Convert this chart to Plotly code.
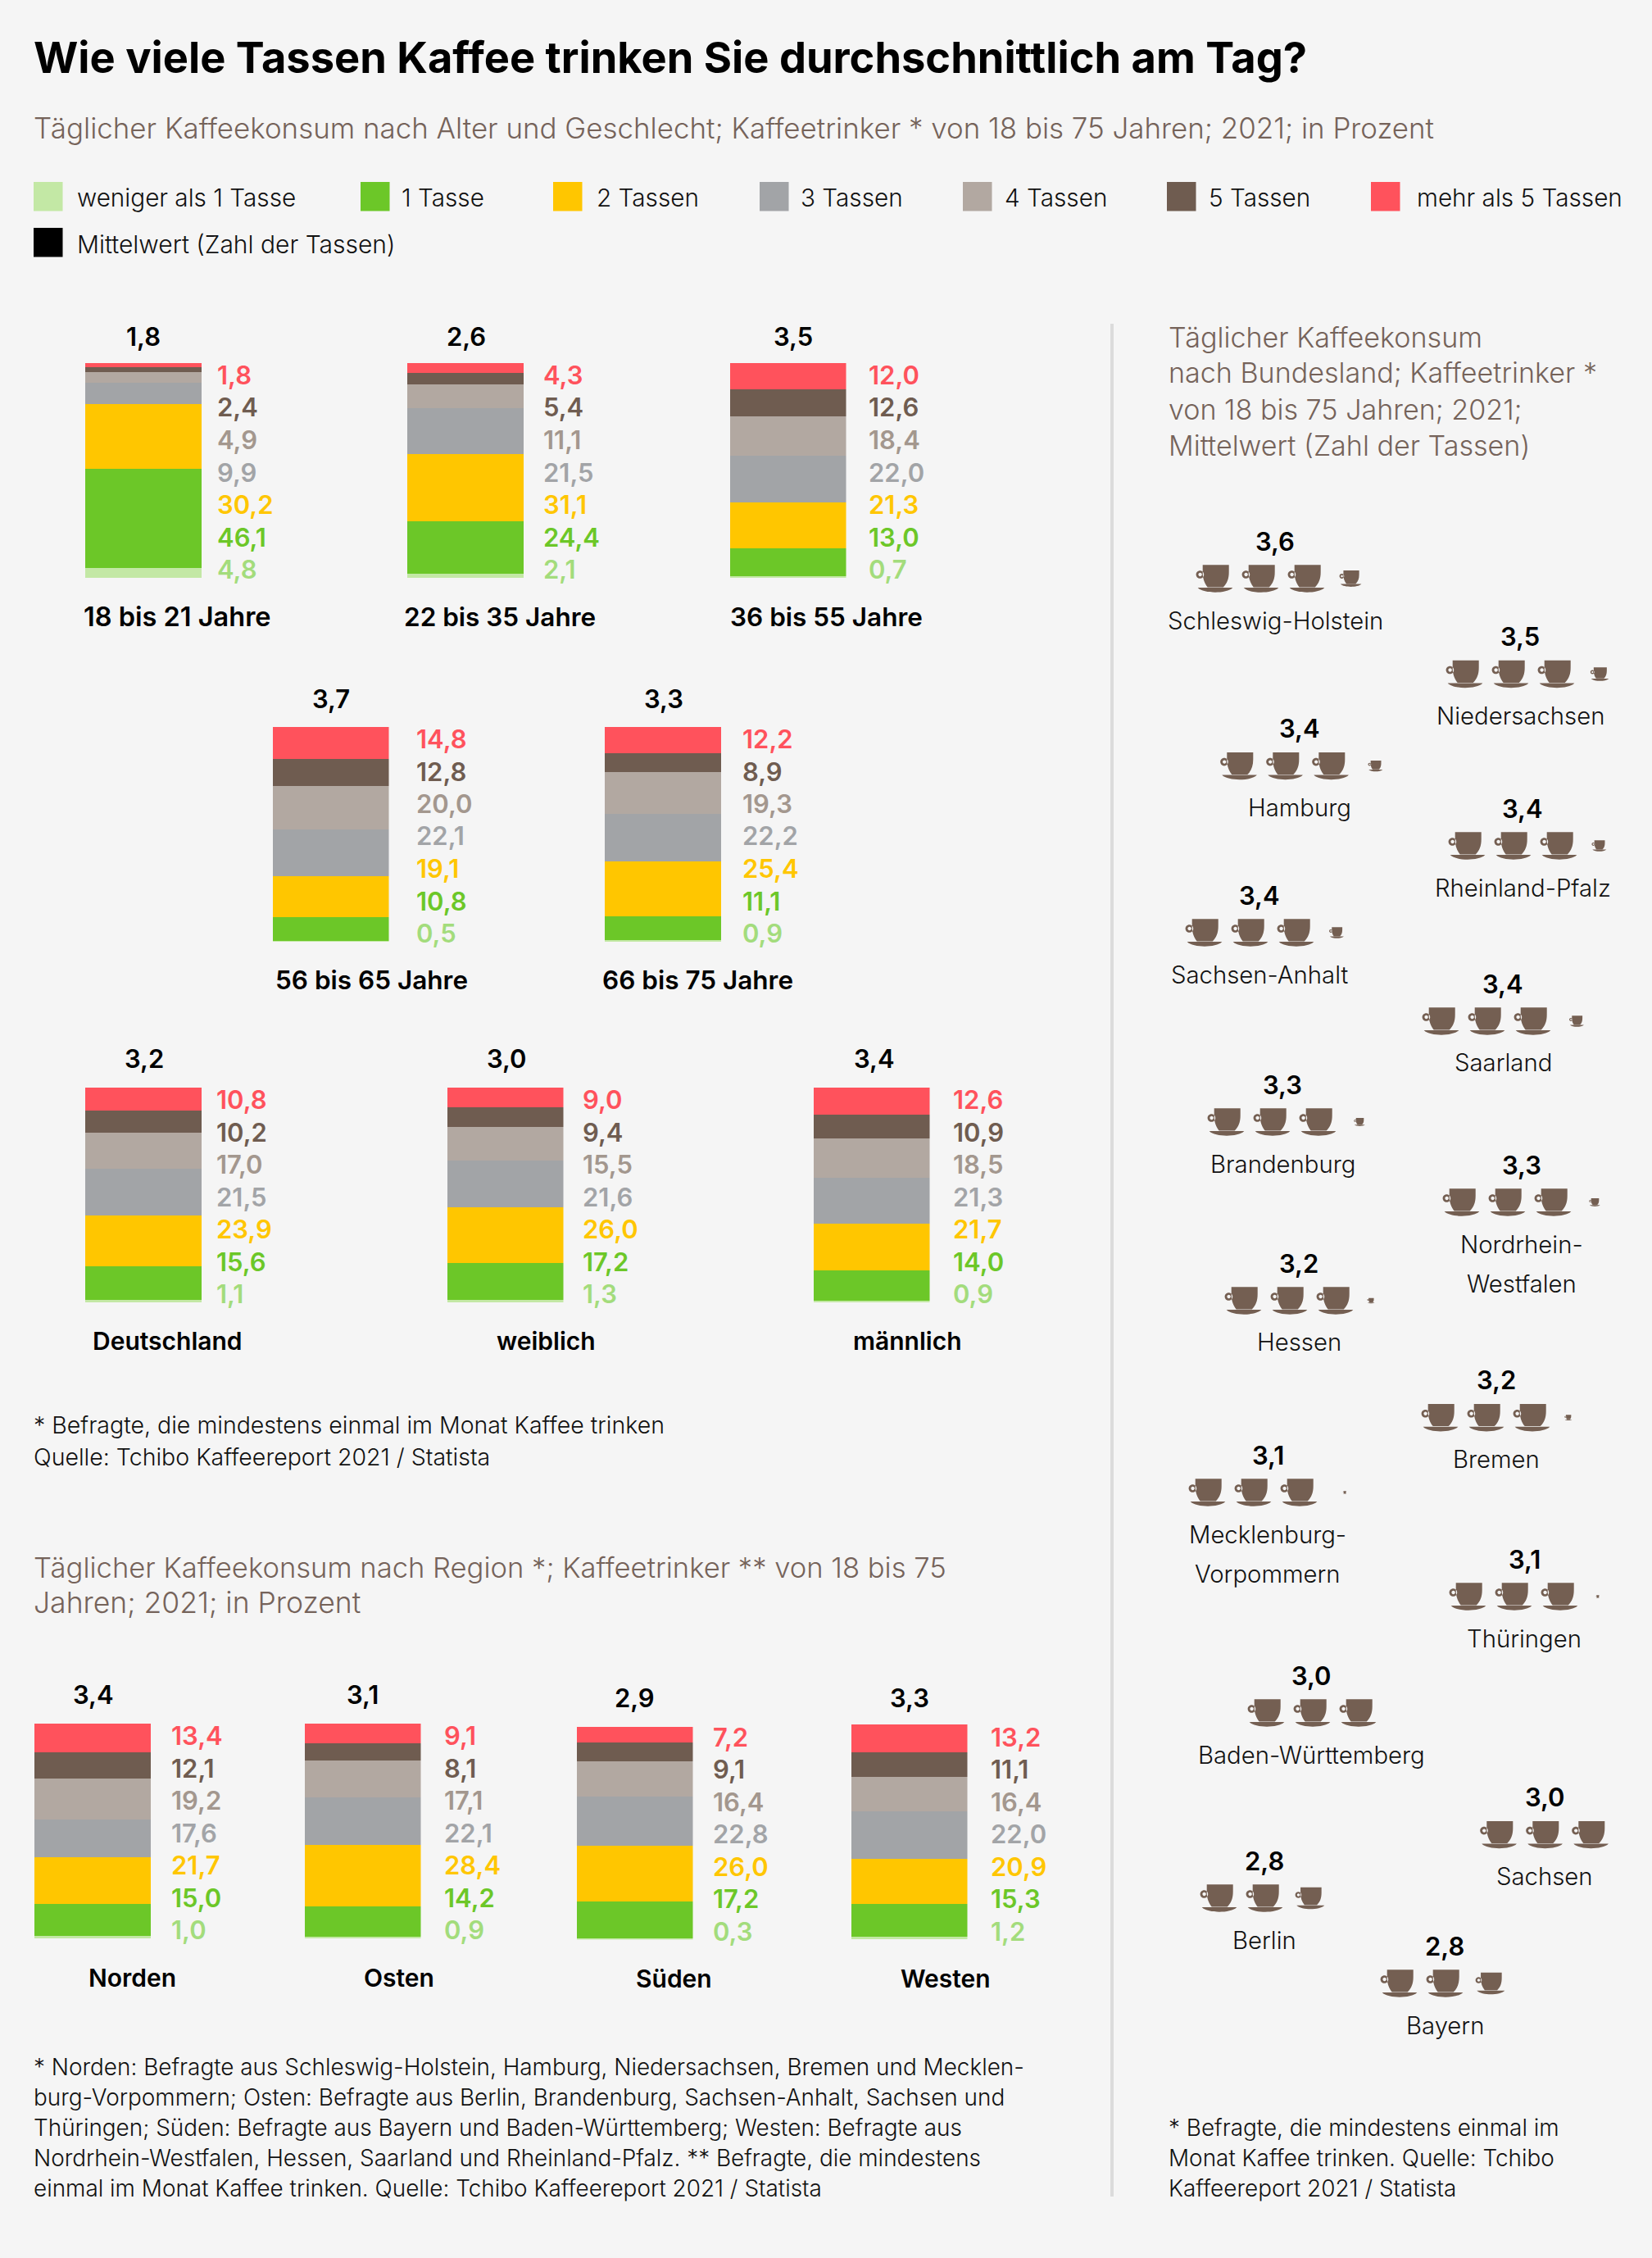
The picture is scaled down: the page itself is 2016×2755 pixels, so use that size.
import plotly.graph_objects as go

# ---------- data ----------
groups = ["18 bis 21 Jahre", "22 bis 35 Jahre", "36 bis 55 Jahre", "56 bis 65 Jahre", "66 bis 75 Jahre",
          "Deutschland", "weiblich", "männlich", "Norden", "Osten", "Süden", "Westen"]
series_names = ["weniger als 1 Tasse", "1 Tasse", "2 Tassen", "3 Tassen", "4 Tassen", "5 Tassen", "mehr als 5 Tassen"]
less_one = [4.8, 2.1, 0.7, 0.5, 0.9, 1.1, 1.3, 0.9, 1.0, 0.9, 0.3, 1.2]
one_cup = [46.1, 24.4, 13.0, 10.8, 11.1, 15.6, 17.2, 14.0, 15.0, 14.2, 17.2, 15.3]
two_cups = [30.2, 31.1, 21.3, 19.1, 25.4, 23.9, 26.0, 21.7, 21.7, 28.4, 26.0, 20.9]
three_cups = [9.9, 21.5, 22.0, 22.1, 22.2, 21.5, 21.6, 21.3, 17.6, 22.1, 22.8, 22.0]
four_cups = [4.9, 11.1, 18.4, 20.0, 19.3, 17.0, 15.5, 18.5, 19.2, 17.1, 16.4, 16.4]
five_cups = [2.4, 5.4, 12.6, 12.8, 8.9, 10.2, 9.4, 10.9, 12.1, 8.1, 9.1, 11.1]
more_cups = [1.8, 4.3, 12.0, 14.8, 12.2, 10.8, 9.0, 12.6, 13.4, 9.1, 7.2, 13.2]
group_means = [1.8, 2.6, 3.5, 3.7, 3.3, 3.2, 3.0, 3.4, 3.4, 3.1, 2.9, 3.3]

states = ["Schleswig-Holstein", "Niedersachsen", "Hamburg", "Rheinland-Pfalz", "Sachsen-Anhalt", "Saarland",
          "Brandenburg", "Nordrhein-|Westfalen", "Hessen", "Bremen", "Mecklenburg-|Vorpommern", "Thüringen",
          "Baden-Württemberg", "Sachsen", "Berlin", "Bayern"]
state_means = [3.6, 3.5, 3.4, 3.4, 3.4, 3.4, 3.3, 3.3, 3.2, 3.2, 3.1, 3.1, 3.0, 3.0, 2.8, 2.8]

# ---------- layout constants ----------
W, H = 2016, 2755
BG = "#f5f5f5"
FONT = "Inter"
colors = ["#c3e8a5", "#6cc728", "#ffc600", "#a2a4a7", "#b2a8a1", "#6f5c50", "#ff525c"]
label_colors = ["#a3dc7c", "#6cc728", "#ffc600", "#a2a4a7", "#a3978e", "#6f5c50", "#ff525c"]
CUP = "#745f52"
SUB = "#75635a"

bar_left = [104, 497, 890.5, 332.5, 738, 104, 545.5, 992.5, 42, 371.5, 703.5, 1038.5]
bar_w = 142
bar_bottom = [705, 705, 705, 1149, 1149, 1589, 1589, 1589, 2365, 2365, 2366.5, 2366.5]
px_per_pct = 2.62
value_x = [265, 663, 1060, 508, 906, 264, 711, 1163, 209, 542, 870, 1209]
mean_x = [175, 569, 968, 404, 810, 176, 618, 1067, 113.6, 442, 774, 1109.5]
mean_y = [410, 410, 410, 852, 852, 1291, 1291, 1291, 2067, 2067, 2071, 2071]
name_x = [216, 610, 1008, 453, 851, 204, 666, 1107, 161, 487, 822, 1153.5]
name_y = [752, 752, 752, 1196, 1196, 1636, 1636, 1636, 2413, 2413, 2414, 2414]
name_size = [32.5, 31.5, 31.5, 31.5, 31.5, 30, 30, 30, 30, 30, 30, 30]

cup_x = [1482, 1787, 1511.6, 1790, 1469, 1758, 1496, 1783, 1517, 1757, 1473, 1791, 1545, 1828.6, 1487, 1707]
cup_y = [706, 822.5, 934.6, 1032, 1138, 1246, 1369, 1467, 1587, 1729.7, 1821, 1948, 2090, 2238.6, 2316, 2420]
state_x = [1556, 1855, 1586, 1858, 1537, 1834, 1565, 1857, 1585, 1826, 1547, 1860, 1600, 1885, 1543, 1763]
CUP_STEP = 56
small_cup_gap = [54, 53, 54.8, 49.4, 50, 54, 51, 51, 44, 44.8, 56, 46.7, 0, 0, 55.5, 55.5]

legend_box_x = [41, 440, 675, 927, 1175, 1424, 1673]
legend_text_x = [94, 490, 728, 977, 1226, 1475, 1729]


def px(x):
    return x / W


def py(y):
    return 1 - y / H


annotations = []
shapes = []


def text(x, y, s, size, color="#000000", weight=400, anchor="left"):
    annotations.append(dict(x=px(x), y=py(y), xref="paper", yref="paper", text=s, showarrow=False,
                            xanchor=anchor, yanchor="middle", borderpad=0, borderwidth=0, align=anchor,
                            font=dict(family=FONT, size=size, color=color, weight=weight)))


def rect(x0, y0, x1, y1, color):
    shapes.append(dict(type="rect", xref="paper", yref="paper", x0=px(x0), x1=px(x1), y0=py(y0), y1=py(y1),
                       fillcolor=color, line=dict(width=0), layer="above"))


def cup_path(cx, cy, s):
    def p(x, y):
        return f"{px(cx + x * s):.6f},{py(cy + y * s):.6f}"

    def circle(x, y, r, rev=False):
        k = 0.5523 * r
        if not rev:
            return (f"M{p(x + r, y)}C{p(x + r, y + k)} {p(x + k, y + r)} {p(x, y + r)}"
                    f"C{p(x - k, y + r)} {p(x - r, y + k)} {p(x - r, y)}"
                    f"C{p(x - r, y - k)} {p(x - k, y - r)} {p(x, y - r)}"
                    f"C{p(x + k, y - r)} {p(x + r, y - k)} {p(x + r, y)}Z")
        return (f"M{p(x + r, y)}C{p(x + r, y - k)} {p(x + k, y - r)} {p(x, y - r)}"
                f"C{p(x - k, y - r)} {p(x - r, y - k)} {p(x - r, y)}"
                f"C{p(x - r, y + k)} {p(x - k, y + r)} {p(x, y + r)}"
                f"C{p(x + k, y + r)} {p(x + r, y + k)} {p(x + r, y)}Z")

    body = (f"M{p(-14.3, -16.7)}L{p(17.7, -16.7)}L{p(17.7, -8)}"
            f"C{p(17.7, 0)} {p(15.5, 6)} {p(10.7, 10.4)}L{p(-8.3, 10.4)}"
            f"C{p(-12, 6)} {p(-14.3, 0)} {p(-14.3, -8)}Z")
    saucer = (f"M{p(-20.3, 11)}L{p(22.3, 11)}C{p(19, 15)} {p(9, 16.7)} {p(1, 16.7)}"
              f"C{p(-7, 16.7)} {p(-17, 15)} {p(-20.3, 11)}Z")
    handle = circle(-17.6, -5, 4.8) + circle(-17.4, -5, 2.2, rev=True)
    return body + saucer + handle


def fmt(v):
    return f"{v:.1f}".replace(".", ",")


fig = go.Figure()
all_series = [less_one, one_cup, two_cups, three_cups, four_cups, five_cups, more_cups]
Y_MAX = 105
layout_axes = {}
for g, name in enumerate(groups):
    suffix = "" if g == 0 else str(g + 1)
    for s, vals in enumerate(all_series):
        fig.add_trace(go.Bar(x=[name], y=[vals[g]], name=series_names[s], marker=dict(color=colors[s], line=dict(width=0)),
                             xaxis=f"x{suffix}", yaxis=f"y{suffix}", showlegend=False,
                             hovertemplate=f"{name}<br>{series_names[s]}: %{{y}}<extra></extra>"))
    layout_axes[f"xaxis{suffix}"] = dict(domain=[px(bar_left[g]), px(bar_left[g] + bar_w)], visible=False,
                                         range=[-0.5, 0.5], type="category", anchor=f"y{suffix}")
    layout_axes[f"yaxis{suffix}"] = dict(domain=[py(bar_bottom[g]), py(bar_bottom[g] - px_per_pct * Y_MAX)], visible=False,
                                         range=[0, Y_MAX], anchor=f"x{suffix}")
    for s, vals in enumerate(all_series):
        text(value_x[g], bar_bottom[g] - 10.5 - s * 39.5, fmt(vals[g]), 31, label_colors[s], 600)
    text(mean_x[g], mean_y[g], fmt(group_means[g]), 31, "#000000", 600, "center")
    text(name_x[g], name_y[g], name, name_size[g], "#000000", 600, "center")

# heading
text(41, 70, "Wie viele Tassen Kaffee trinken Sie durchschnittlich am Tag?", 52.4, "#000000", 700)
text(41, 156, "Täglicher Kaffeekonsum nach Alter und Geschlecht; Kaffeetrinker * von 18 bis 75 Jahren; 2021; in Prozent",
     34.9, SUB, 300)

# legend
for i, nm in enumerate(series_names):
    rect(legend_box_x[i], 222, legend_box_x[i] + 35.5, 257.5, colors[i])
    text(legend_text_x[i], 241, nm, 29.7, "#111111", 300)
rect(41, 278, 76.5, 313.5, "#000000")
text(94, 298, "Mittelwert (Zahl der Tassen)", 30, "#111111", 300)

# footnote left top
text(41, 1738, "* Befragte, die mindestens einmal im Monat Kaffee trinken", 28.5, "#111111", 300)
text(41, 1777, "Quelle: Tchibo Kaffeereport 2021 / Statista", 28.5, "#111111", 300)

# region heading
text(41, 1912, "Täglicher Kaffeekonsum nach Region *; Kaffeetrinker ** von 18 bis 75", 34.6, SUB, 300)
text(41, 1956, "Jahren; 2021; in Prozent", 35.5, SUB, 300)

for i, line in enumerate([
    "* Norden: Befragte aus Schleswig-Holstein, Hamburg, Niedersachsen, Bremen und Mecklen-",
    "burg-Vorpommern; Osten: Befragte aus Berlin, Brandenburg, Sachsen-Anhalt, Sachsen und",
    "Thüringen; Süden: Befragte aus Bayern und Baden-Württemberg; Westen: Befragte aus",
    "Nordrhein-Westfalen, Hessen, Saarland und Rheinland-Pfalz. ** Befragte, die mindestens",
    "einmal im Monat Kaffee trinken. Quelle: Tchibo Kaffeereport 2021 / Statista",
]):
    text(41, 2522 + 37 * i, line, 27.9, "#111111", 300)

# divider
rect(1355, 395, 1359, 2680, "#dbdbdb")

# right panel
for i, line in enumerate(["Täglicher Kaffeekonsum", "nach Bundesland; Kaffeetrinker *",
                          "von 18 bis 75 Jahren; 2021;", "Mittelwert (Zahl der Tassen)"]):
    text(1426, 411 + 44 * i, line, 34.1, SUB, 300)

for i, st in enumerate(states):
    v = state_means[i]
    whole = int(v)
    frac = round(v - whole, 1)
    for c in range(whole):
        shapes.append(dict(type="path", xref="paper", yref="paper", path=cup_path(cup_x[i] + c * CUP_STEP, cup_y[i], 1),
                           fillcolor=CUP, line=dict(width=0), layer="above"))
    if frac > 0:
        shapes.append(dict(type="path", xref="paper", yref="paper",
                           path=cup_path(cup_x[i] + (whole - 1) * CUP_STEP + small_cup_gap[i], cup_y[i], frac),
                           fillcolor=CUP, line=dict(width=0), layer="above"))
    text(state_x[i], cup_y[i] - 46, fmt(v), 31, "#000000", 600, "center")
    for j, part in enumerate(st.split("|")):
        text(state_x[i], cup_y[i] + 51 + 48 * j, part, 29.3, "#111111", 300, "center")

for i, line in enumerate(["* Befragte, die mindestens einmal im", "Monat Kaffee trinken. Quelle: Tchibo",
                          "Kaffeereport 2021 / Statista"]):
    text(1426, 2596 + 37 * i, line, 27.9, "#111111", 300)

fig.update_layout(width=W, height=H, autosize=False, margin=dict(l=0, r=0, t=0, b=0, pad=0),
                  paper_bgcolor=BG, plot_bgcolor=BG, barmode="stack", bargap=0, showlegend=False,
                  annotations=annotations, shapes=shapes, **layout_axes)

fig.write_html("out.html", config={"displayModeBar": False},
               post_script="document.body.style.margin='0';document.body.style.background='#f5f5f5';")
